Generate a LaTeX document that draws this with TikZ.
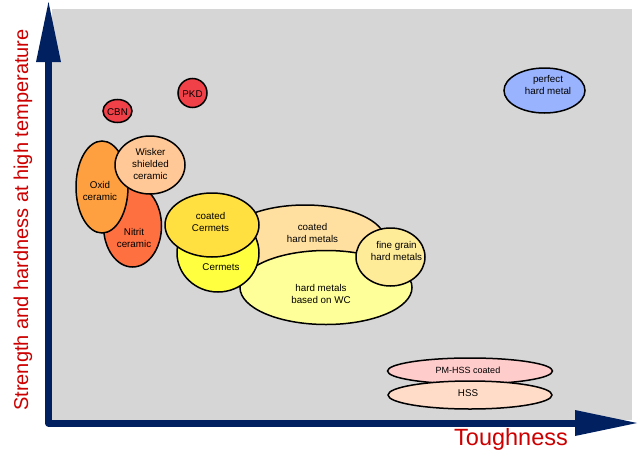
\documentclass[tikz,border=0pt]{standalone}
\usepackage{fontspec}
\setmainfont{Liberation Sans}
\usetikzlibrary{shapes.geometric}
\definecolor{navy}{RGB}{0,32,96}
\definecolor{labred}{RGB}{204,0,0}
\definecolor{bg}{RGB}{214,214,214}
\definecolor{cred}{RGB}{240,64,72}
\definecolor{cwisk}{RGB}{255,200,150}
\definecolor{coxid}{RGB}{255,160,64}
\definecolor{cnitr}{RGB}{255,112,64}
\definecolor{ccocer}{RGB}{255,224,64}
\definecolor{ccer}{RGB}{255,255,64}
\definecolor{ccohm}{RGB}{255,224,160}
\definecolor{cwc}{RGB}{255,255,153}
\definecolor{cfine}{RGB}{255,236,153}
\definecolor{cperf}{RGB}{153,179,255}
\definecolor{cpmhss}{RGB}{255,204,204}
\definecolor{chss}{RGB}{255,220,200}
\begin{document}
\begin{tikzpicture}[x=1pt,y=-1pt,
  blob/.style={ellipse, draw=black, line width=1.5pt, inner sep=0pt},
  txt/.style={font=\fontsize{9.8}{11.6}\selectfont, align=center, inner sep=0pt}]
\useasboundingbox (0,0) rectangle (639,455);
\fill[bg] (52,9) rectangle (632,420);
% axes
\draw[navy, line width=7pt, line join=round] (48.5,40) -- (48.5,423) -- (600,423);
\fill[navy] (48.5,2) -- (61,62) -- (36,62) -- cycle;
\fill[navy] (637,423) -- (575,410) -- (575,436) -- cycle;
\node[labred, font=\fontsize{20}{24}\selectfont, rotate=90, inner sep=0pt] (ylab) at (23,220) {Strength and hardness at high temperature};
\node[labred, font=\fontsize{23.5}{28}\selectfont, inner sep=0pt] (xlab) at (511,439) {Toughness};
% ellipses
\node[blob, fill=cred, minimum width=29pt, minimum height=23pt] (cbn) at (117.5,111) {};
\node[blob, fill=cred, minimum width=29pt, minimum height=29pt] (pkd) at (192.5,93) {};
\node[blob, fill=cnitr, minimum width=58pt, minimum height=82pt] (nitr) at (132.5,226) {};
\node[blob, fill=coxid, minimum width=52pt, minimum height=92pt] (oxid) at (102,187) {};
\node[blob, fill=cwisk, minimum width=70pt, minimum height=58pt] (wisk) at (150,165) {};
\node[blob, fill=ccohm, minimum width=160pt, minimum height=70pt] (cohm) at (305,240) {};
\node[blob, fill=cwc, minimum width=172pt, minimum height=74pt] (wc) at (326,287.5) {};
\node[blob, fill=cfine, minimum width=69pt, minimum height=58pt] (fine) at (390.5,257) {};
\node[blob, fill=ccer, minimum width=82pt, minimum height=78pt] (cer) at (218,253) {};
\node[blob, fill=ccocer, minimum width=94pt, minimum height=64pt] (cocer) at (212,225) {};
\node[blob, fill=cperf, minimum width=81pt, minimum height=45pt] (perf) at (544.5,90.5) {};
\node[blob, fill=cpmhss, minimum width=165pt, minimum height=26pt] (pmhss) at (470,371) {};
\node[blob, fill=chss, minimum width=164pt, minimum height=28pt] (hss) at (470,395) {};
% texts
\node[txt] (tcbn) at (117.5,112) {CBN};
\node[txt] (tpkd) at (192.5,94) {PKD};
\node[txt] (tnitr) at (134,238) {Nitrit\\ceramic};
\node[txt] (toxid) at (100,191) {Oxid\\ceramic};
\node[txt] (twisk) at (150.5,164) {Wisker\\shielded\\ceramic};
\node[txt] (tcohm) at (312.5,233) {coated\\hard metals};
\node[txt] (twc) at (321,294) {hard metals\\based on WC};
\node[txt] (tfine) at (396.5,251) {fine grain\\hard metals};
\node[txt] (tcer) at (221,267) {Cermets};
\node[txt] (tcocer) at (210.5,222) {coated\\Cermets};
\node[txt] (tperf) at (548,85) {perfect\\hard metal};
\node[txt, font=\fontsize{9}{11}\selectfont] (tpmhss) at (468,370) {PM-HSS coated};
\node[txt] (thss) at (468,393) {HSS};
\end{tikzpicture}
\end{document}
